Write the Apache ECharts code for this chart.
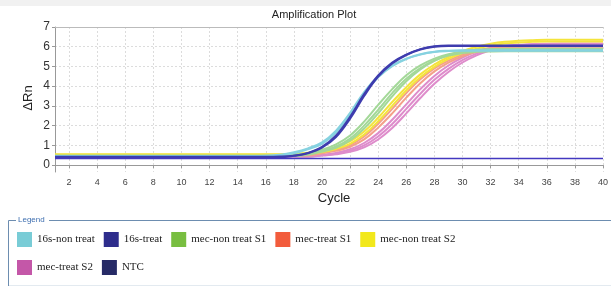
<!DOCTYPE html>
<html>
<head>
<meta charset="utf-8">
<script src="https://cdn.jsdelivr.net/npm/echarts@6/dist/echarts.min.js"></script>
<style>
  html, body { margin: 0; padding: 0; background: #fff; }
  #chart { width: 611px; height: 286px; }
</style>
</head>
<body>
<div id="chart"></div>
<script>
// cycle numbers on the x axis
const cycles = [1,2,3,4,5,6,7,8,9,10,11,12,13,14,15,16,17,18,19,20,
  21,22,23,24,25,26,27,28,29,30,31,32,33,34,35,36,37,38,39,40];
const xTicks = [2,4,6,8,10,12,14,16,18,20,22,24,26,28,30,32,34,36,38,40];
const yTicks = [0,1,2,3,4,5,6,7];

const legendRow1 = ['16s-non treat', '16s-treat', 'mec-non treat S1', 'mec-treat S1', 'mec-non treat S2'];
const legendRow2 = ['mec-treat S2', 'NTC'];

// ΔRn per cycle, one array per well
const nonTreat16sA = [0.46,0.46,0.46,0.46,0.46,0.46,0.46,0.46,0.46,0.46,0.46,0.46,0.46,0.46,0.46,
  0.47,0.52,0.65,0.85,1.15,1.75,2.65,3.7,4.5,5.05,5.4,5.62,5.75,5.8,
  5.82,5.82,5.82,5.82,5.82,5.82,5.82,5.82,5.82,5.82,5.82];
const nonTreat16sB = [0.44,0.44,0.44,0.44,0.44,0.44,0.44,0.44,0.44,0.44,0.44,0.44,0.44,0.44,0.44,0.44,
  0.5,0.6,0.8,1.08,1.65,2.55,3.62,4.45,5.02,5.38,5.6,5.73,5.78,
  5.8,5.8,5.8,5.8,5.8,5.8,5.8,5.8,5.8,5.8,5.8];
const treat16sA = [0.42,0.42,0.42,0.42,0.42,0.42,0.42,0.42,0.42,0.42,0.42,0.42,0.42,0.42,0.42,0.42,
  0.43,0.48,0.62,0.92,1.5,2.45,3.6,4.55,5.2,5.6,5.88,6.02,
  6.06,6.06,6.06,6.06,6.06,6.06,6.06,6.06,6.06,6.06,6.06,6.06];
const treat16sB = [0.4,0.4,0.4,0.4,0.4,0.4,0.4,0.4,0.4,0.4,0.4,0.4,0.4,0.4,0.4,0.4,0.4,
  0.47,0.6,0.88,1.42,2.35,3.5,4.48,5.15,5.58,5.86,6.0,
  6.04,6.04,6.04,6.04,6.04,6.04,6.04,6.04,6.04,6.04,6.04,6.04];
const mecNonS1A = [0.48,0.48,0.48,0.48,0.48,0.48,0.48,0.48,0.48,0.48,0.48,0.48,0.48,0.48,0.48,0.48,0.48,
  0.52,0.6,0.78,1.05,1.5,2.2,3.05,3.85,4.55,5.05,5.4,5.62,5.74,5.8,5.82,
  5.83,5.83,5.83,5.83,5.83,5.83,5.83,5.83];
const mecNonS1B = [0.47,0.47,0.47,0.47,0.47,0.47,0.47,0.47,0.47,0.47,0.47,0.47,0.47,0.47,0.47,0.47,0.47,0.47,
  0.56,0.72,0.95,1.35,2.0,2.8,3.65,4.38,4.92,5.3,5.55,5.68,5.74,5.76,
  5.77,5.77,5.77,5.77,5.77,5.77,5.77,5.77];
const mecNonS1C = [0.46,0.46,0.46,0.46,0.46,0.46,0.46,0.46,0.46,0.46,0.46,0.46,0.46,0.46,0.46,0.46,0.46,0.46,
  0.53,0.68,0.88,1.25,1.85,2.62,3.48,4.25,4.85,5.28,5.58,5.76,5.85,5.88,
  5.9,5.9,5.9,5.9,5.9,5.9,5.9,5.9];
const mecTreatS1A = [0.5,0.5,0.5,0.5,0.5,0.5,0.5,0.5,0.5,0.5,0.5,0.5,0.5,0.5,0.5,0.5,0.5,0.5,
  0.55,0.63,0.78,1.02,1.45,2.1,2.85,3.65,4.35,4.9,5.3,5.6,5.8,5.92,5.98,
  6.0,6.0,6.0,6.0,6.0,6.0,6.0];
const mecTreatS1B = [0.49,0.49,0.49,0.49,0.49,0.49,0.49,0.49,0.49,0.49,0.49,0.49,0.49,0.49,0.49,0.49,0.49,0.49,0.49,
  0.6,0.72,0.93,1.3,1.9,2.62,3.42,4.15,4.75,5.2,5.52,5.75,5.88,5.96,6.0,
  6.02,6.02,6.02,6.02,6.02,6.02];
const mecNonS2A = [0.55,0.55,0.55,0.55,0.55,0.55,0.55,0.55,0.55,0.55,0.55,0.55,0.55,0.55,0.55,0.55,0.55,
  0.57,0.62,0.72,0.9,1.2,1.7,2.4,3.2,3.95,4.6,5.1,5.48,5.78,6.0,6.15,6.25,6.3,6.33,
  6.35,6.35,6.35,6.35,6.35];
const mecNonS2B = [0.53,0.53,0.53,0.53,0.53,0.53,0.53,0.53,0.53,0.53,0.53,0.53,0.53,0.53,0.53,0.53,0.53,0.53,
  0.58,0.66,0.82,1.08,1.55,2.22,3.0,3.78,4.45,4.98,5.38,5.68,5.9,6.06,6.16,6.22,6.25,
  6.27,6.27,6.27,6.27,6.27];
const mecTreatS2A = [0.45,0.45,0.45,0.45,0.45,0.45,0.45,0.45,0.45,0.45,0.45,0.45,0.45,0.45,0.45,0.45,0.45,0.45,0.45,
  0.52,0.62,0.8,1.12,1.62,2.3,3.08,3.85,4.52,5.05,5.45,5.75,5.95,6.05,6.1,6.12,
  6.13,6.13,6.13,6.13,6.13];
const mecTreatS2B = [0.44,0.44,0.44,0.44,0.44,0.44,0.44,0.44,0.44,0.44,0.44,0.44,0.44,0.44,0.44,0.44,0.44,0.44,0.44,
  0.5,0.58,0.73,1.0,1.45,2.08,2.85,3.62,4.32,4.88,5.32,5.65,5.88,6.0,6.08,6.12,
  6.14,6.14,6.14,6.14,6.14];
const mecTreatS2C = [0.43,0.43,0.43,0.43,0.43,0.43,0.43,0.43,0.43,0.43,0.43,0.43,0.43,0.43,0.43,0.43,0.43,0.43,0.43,
  0.48,0.55,0.67,0.9,1.3,1.88,2.62,3.4,4.12,4.72,5.2,5.56,5.82,5.98,6.07,6.12,6.15,
  6.16,6.16,6.16,6.16];
const ntc = [0.33,0.33,0.33,0.33,0.33,0.33,0.33,0.33,0.33,0.33,0.33,0.33,0.33,0.33,0.33,0.33,0.33,0.33,0.33,0.33,
  0.33,0.33,0.33,0.33,0.33,0.33,0.33,0.33,0.33,0.33,0.33,0.33,0.33,0.33,0.33,0.33,0.33,0.33,0.33,0.33];

// swatch colour in the legend, line colour in the plot
const swatch = {
  '16s-non treat': '#79ccd6', '16s-treat': '#2e2d8c', 'mec-non treat S1': '#78be40',
  'mec-treat S1': '#f25c3c', 'mec-non treat S2': '#f2e81c', 'mec-treat S2': '#c457a8', 'NTC': '#262a66'
};
const lineColor = {
  '16s-non treat': '#86d2e0', '16s-treat': '#3e3cae', 'mec-non treat S1': '#a3d898',
  'mec-treat S1': '#f4a08a', 'mec-non treat S2': '#f4e43c', 'mec-treat S2': '#de8ccb', 'NTC': '#4338c0'
};

// drawing order: later wells sit on top
const wells = [
  ['mec-treat S2', mecTreatS2A], ['mec-treat S2', mecTreatS2B], ['mec-treat S2', mecTreatS2C],
  ['mec-treat S1', mecTreatS1A], ['mec-treat S1', mecTreatS1B],
  ['mec-non treat S2', mecNonS2A], ['mec-non treat S2', mecNonS2B],
  ['mec-non treat S1', mecNonS1A], ['mec-non treat S1', mecNonS1B], ['mec-non treat S1', mecNonS1C],
  ['16s-non treat', nonTreat16sA], ['16s-non treat', nonTreat16sB],
  ['16s-treat', treat16sA], ['16s-treat', treat16sB],
  ['NTC', ntc]
];

const chart = echarts.init(document.getElementById('chart'));

const series = wells.map(([name, vals]) => ({
  name: name,
  type: 'line',
  data: cycles.map((c, i) => [c, vals[i]]),
  smooth: 0.4,
  showSymbol: false,
  silent: true,
  itemStyle: { color: swatch[name] },
  lineStyle: { color: lineColor[name], width: name === 'NTC' ? 1.5 : 2 }
}));

const legendBase = {
  orient: 'horizontal',
  icon: 'rect',
  padding: 0,
  itemWidth: 15,
  itemHeight: 15,
  itemGap: 9,
  selectedMode: false,
  itemStyle: { borderWidth: 0 },
  textStyle: { fontFamily: 'Liberation Serif', fontSize: 11, color: '#222' }
};

const option = {
  animation: false,
  backgroundColor: '#fff',
  grid: { left: 55, right: 1, top: 27, bottom: 114 },
  xAxis: [{
    type: 'value',
    min: 1,
    max: 40,
    axisLine: { lineStyle: { color: '#999' } },
    axisTick: { customValues: xTicks, length: 3, lineStyle: { color: '#999' } },
    axisLabel: { customValues: xTicks, fontFamily: 'Liberation Sans', fontSize: 9, color: '#444', margin: 6 },
    splitLine: { show: true, lineStyle: { color: '#dcdcdc', type: [2, 2] } }
  }, {
    type: 'value',
    position: 'top',
    min: 1,
    max: 40,
    axisLine: { show: true, lineStyle: { color: '#bbb' } },
    axisTick: { show: false },
    axisLabel: { show: false },
    splitLine: { show: false }
  }],
  yAxis: {
    type: 'value',
    min: -0.35,
    max: 7,
    axisLine: { show: true, lineStyle: { color: '#999' } },
    axisTick: { show: true, customValues: yTicks, length: 3, lineStyle: { color: '#999' } },
    axisLabel: { customValues: yTicks, fontFamily: 'Liberation Sans', fontSize: 12, color: '#333', margin: 5 },
    splitLine: { show: true, lineStyle: { color: '#dcdcdc', type: [2, 2] } }
  },
  legend: [
    Object.assign({}, legendBase, {
      left: 17, top: 232,
      data: legendRow1.map(n => ({ name: n, itemStyle: { color: swatch[n] } }))
    }),
    Object.assign({}, legendBase, {
      left: 17, top: 260,
      data: legendRow2.map(n => ({ name: n, itemStyle: { color: swatch[n] } }))
    })
  ],
  graphic: [
    { type: 'rect', left: 0, top: 0, shape: { width: 611, height: 6 }, style: { fill: '#f1f1f1' }, silent: true },
    { type: 'text', x: 314, y: 15, style: { text: 'Amplification Plot', font: '11px "Liberation Sans"', fill: '#222', align: 'center', verticalAlign: 'middle' } },
    { type: 'text', x: 28, y: 98, rotation: Math.PI / 2, style: { text: 'ΔRn', font: '13px "Liberation Sans"', fill: '#222', align: 'center', verticalAlign: 'middle' } },
    { type: 'text', x: 334, y: 198, style: { text: 'Cycle', font: '13px "Liberation Sans"', fill: '#222', align: 'center', verticalAlign: 'middle' } },
    { type: 'polyline', shape: { points: [[8.5, 286], [8.5, 220.5], [16, 220.5]] }, style: { stroke: '#6d8db0', lineWidth: 1, fill: null }, silent: true },
    { type: 'line', shape: { x1: 49, y1: 220.5, x2: 611, y2: 220.5 }, style: { stroke: '#6d8db0', lineWidth: 1 }, silent: true },
    { type: 'line', shape: { x1: 9, y1: 285.5, x2: 611, y2: 285.5 }, style: { stroke: '#e3eaf0', lineWidth: 1 }, silent: true },
    { type: 'text', x: 18, y: 220, style: { text: 'Legend', font: '8px "Liberation Sans"', fill: '#3f6fb0', verticalAlign: 'middle' } }
  ],
  series: series
};

chart.setOption(option);
</script>
</body>
</html>
